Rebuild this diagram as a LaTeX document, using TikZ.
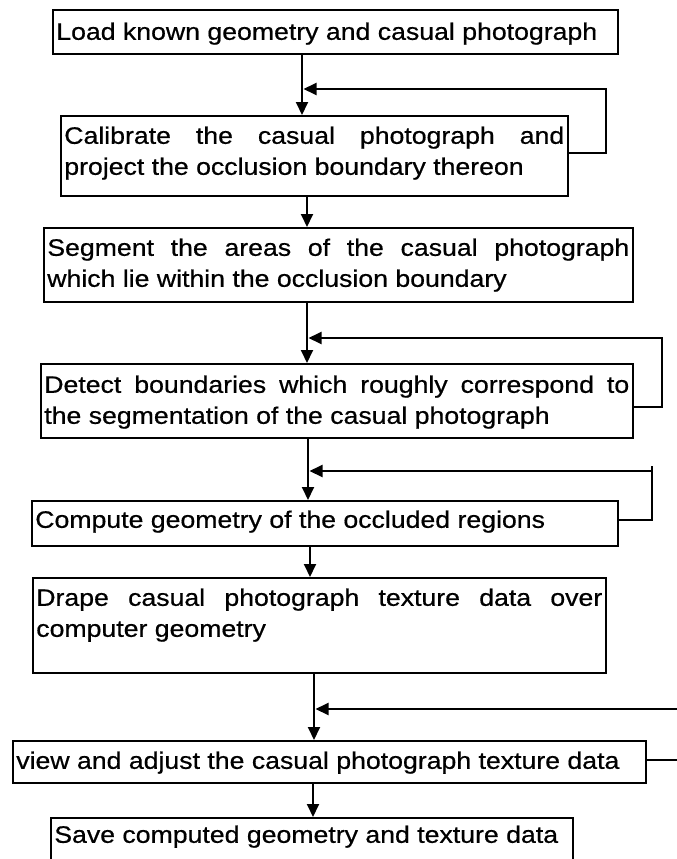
\documentclass[tikz,border=0pt]{standalone}
\usepackage{fontspec}
\setmainfont{Liberation Sans}[FakeStretch=1.12,FakeBold=0.6]
\usetikzlibrary{arrows.meta}
\newcommand\bxt[4]{\parbox[c][#2pt][t]{\dimexpr#1pt-7pt\relax}{\tolerance=10000\hyphenpenalty=10000\rule{0pt}{#3pt}#4}}
\begin{document}
\begin{tikzpicture}[x=1pt,y=-1pt,
  box/.style={draw, rectangle, line width=1.6pt, inner xsep=3.5pt, inner ysep=0pt,
    anchor=north west, font=\fontsize{23.8}{31}\selectfont},
  arr/.style={line width=1.9pt, -{Triangle[length=13pt,width=12pt]}},
  conn/.style={line width=1.9pt}]
\useasboundingbox (0,0) rectangle (677,859);
\clip (0,0) rectangle (677,859);
\fill[white] (0,0) rectangle (677,859);

\node[box] (b1) at (52,9)   {\bxt{565}{44}{30}{Load known geometry and casual photograph}};
\node[box] (b2) at (60,115) {\bxt{507}{80}{28}{Calibrate the casual photograph and\linebreak project the occlusion boundary thereon}};
\node[box] (b3) at (43,227) {\bxt{589}{74}{28}{Segment the areas of the casual photograph\linebreak which lie within the occlusion boundary}};
\node[box] (b4) at (40,363) {\bxt{592}{74}{29}{Detect boundaries which roughly correspond to\linebreak the segmentation of the casual photograph}};
\node[box] (b5) at (31,500) {\bxt{586}{45}{27}{Compute geometry of the occluded regions}};
\node[box] (b6) at (32,577) {\bxt{573}{95}{28}{Drape casual photograph texture data over\linebreak computer geometry}};
\node[box] (b7) at (12,740) {\bxt{633}{42}{28}{view and adjust the casual photograph texture data}};
\node[box] (b8) at (50,817) {\bxt{522}{70}{25}{Save computed geometry and texture data}};

% main flow
\draw[arr] (302,0 |- b1.south) -- (302,0 |- b2.north);
\draw[arr] (307,0 |- b2.south) -- (307,0 |- b3.north);
\draw[arr] (307,0 |- b3.south) -- (307,0 |- b4.north);
\draw[arr] (308,0 |- b4.south) -- (308,0 |- b5.north);
\draw[arr] (310,0 |- b5.south) -- (310,0 |- b6.north);
\draw[arr] (314,0 |- b6.south) -- (314,0 |- b7.north);
\draw[arr] (313,0 |- b7.south) -- (313,0 |- b8.north);

% feedback loops
\coordinate (j1) at (303.5,89);
\coordinate (j2) at (308.5,338);
\coordinate (j3) at (309.5,471);
\coordinate (j4) at (315.5,709);
\draw[arr] (b2.east |- 0,153) -- (606,153) -- (606,89) -- (j1);
\draw[arr] (b4.east |- 0,407) -- (662,407) -- (662,338) -- (j2);
\draw[arr] (b5.east |- 0,520) -- (652,520) -- (652,466) -- (652,471) -- (j3);
\draw[arr] (b7.east |- 0,760) -- (700,760) -- (700,709) -- (j4);
\end{tikzpicture}
\end{document}
